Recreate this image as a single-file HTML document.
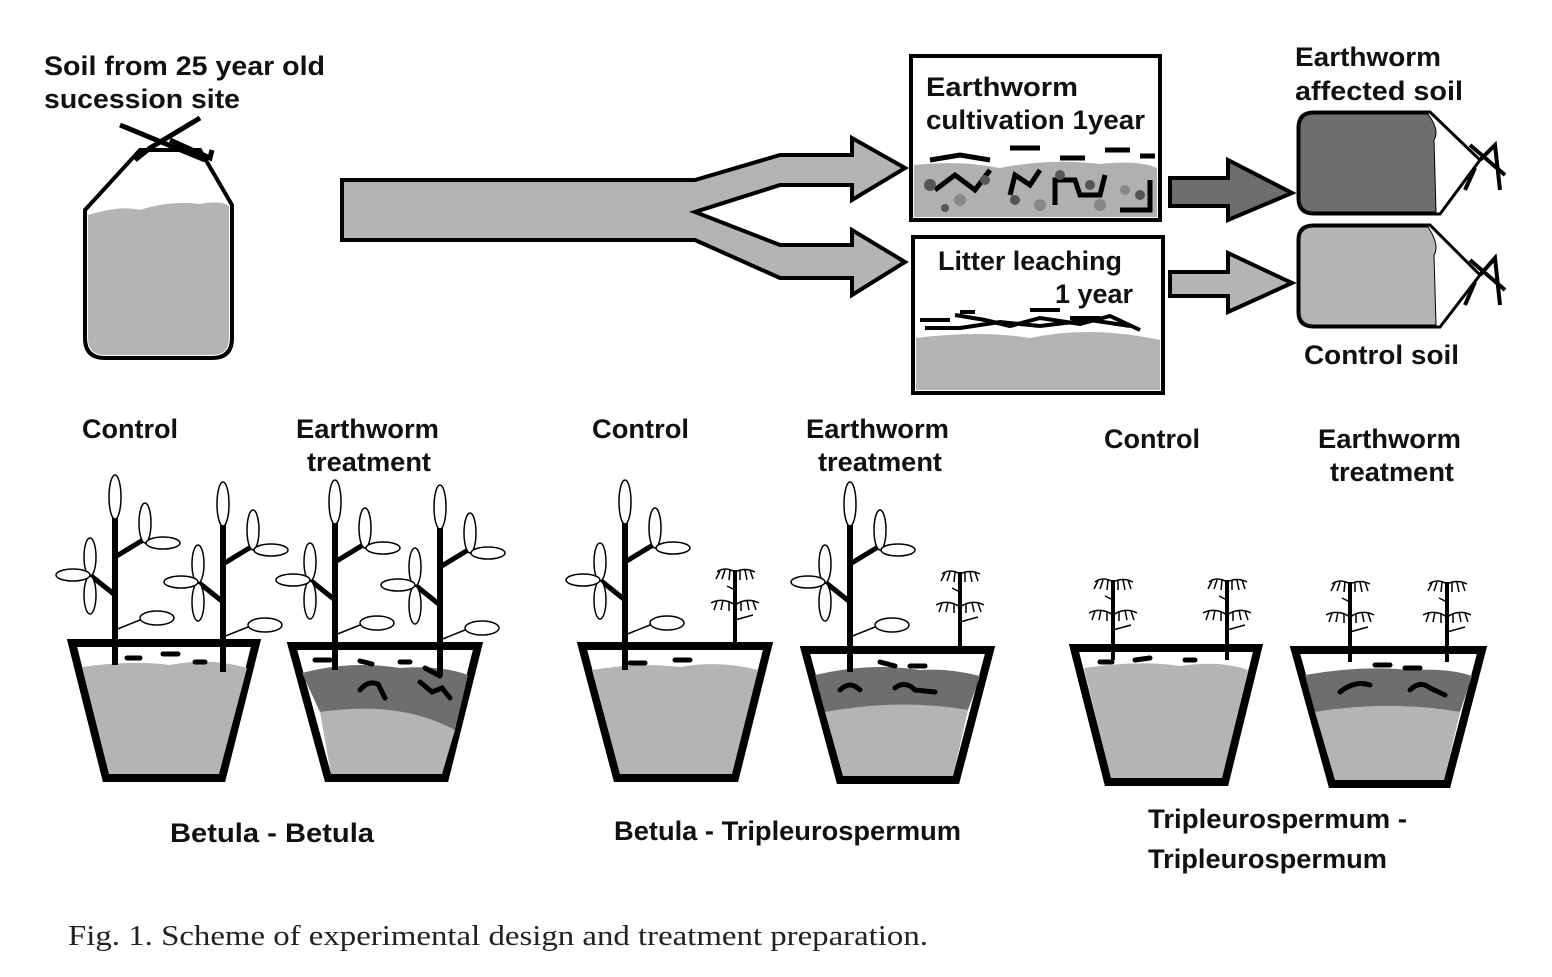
<!DOCTYPE html>
<html><head><meta charset="utf-8"><style>
html,body{margin:0;padding:0;background:#fff;}
svg{display:block;}
.t{font-family:"Liberation Sans",Arial,sans-serif;font-weight:bold;font-size:27px;fill:#111;}
.c{font-family:"Liberation Serif",serif;font-size:29px;fill:#222;}
</style></head><body>
<svg width="1552" height="977" viewBox="0 0 1552 977" xmlns="http://www.w3.org/2000/svg">
<defs>
<g id="bet" stroke="#000" fill="#fff">
 <line x1="0" y1="0" x2="0" y2="-150" stroke-width="6"/>
 <ellipse cx="0" cy="-168" rx="6" ry="22" stroke-width="1.5"/>
 <line x1="0" y1="-108" x2="28" y2="-125" stroke-width="5"/>
 <ellipse cx="30" cy="-142" rx="6" ry="20" stroke-width="1.5"/>
 <ellipse cx="48" cy="-122" rx="17" ry="6" stroke-width="1.5"/>
 <line x1="0" y1="-70" x2="-25" y2="-90" stroke-width="5"/>
 <ellipse cx="-25" cy="-108" rx="6" ry="19" stroke-width="1.5"/>
 <ellipse cx="-25" cy="-70" rx="6" ry="19" stroke-width="1.5"/>
 <ellipse cx="-42" cy="-90" rx="17" ry="6" stroke-width="1.5"/>
 <line x1="0" y1="-35" x2="25" y2="-45" stroke-width="1.5"/>
 <ellipse cx="42" cy="-47" rx="17" ry="7" stroke-width="1.5"/>
</g>
<g id="tri" stroke="#000" fill="none" stroke-width="1.5">
 <line x1="0" y1="0" x2="0" y2="-80" stroke-width="4"/>
 <path d="M0,-78 q10,-5 20,0 M5,-80 l0,10 M10,-80 l2,10 M15,-80 l3,9 M0,-78 q-10,-6 -18,0 M-5,-80 l-1,10 M-10,-80 l-3,9 M-15,-79 l-4,8"/>
 <path d="M0,-45 q12,-8 24,-2 M6,-49 l0,10 M12,-50 l2,10 M18,-49 l3,9 M0,-45 q-12,-8 -24,-2 M-6,-49 l0,10 M-12,-50 l-2,10 M-18,-49 l-3,9"/>
 <path d="M0,-60 l-8,-4 M0,-30 l18,-5"/>
</g>
</defs>

<!-- left bag -->
<path d="M85,210 L140,150 L200,150 L232,205 L232,338 Q232,358 212,358 L105,358 Q85,358 85,338 Z" fill="#fff" stroke="#000" stroke-width="4"/>
<path d="M88,215 Q120,205 140,210 Q170,200 200,204 Q220,200 229,206 L229,338 Q229,355 212,355 L105,355 Q88,355 88,338 Z" fill="#b4b4b4"/>
<path d="M120,125 L205,160 M200,118 L150,148 L135,160 M170,140 L210,158 L212,150" stroke="#000" stroke-width="5" fill="none"/>
<path d="M140,150 L200,150" stroke="#000" stroke-width="3"/>

<!-- big arrow -->
<path d="M342,180 L695,180 L780,155 L852,155 L852,138 L905,168 L852,200 L852,185 L780,185 L695,212 L780,245 L852,245 L852,230 L905,262 L852,295 L852,278 L780,278 L695,240 L342,240 Z" fill="#b4b4b4" stroke="#000" stroke-width="4" stroke-linejoin="miter"/>

<!-- upper box -->
<rect x="911" y="56" width="249" height="164" fill="#fff" stroke="#000" stroke-width="4"/>
<path d="M914,165 Q960,160 1000,168 Q1050,158 1100,164 Q1140,160 1157,168 L1157,217 L914,217 Z" fill="#b0b0b0"/>
<g stroke="#000" stroke-width="5" fill="none">
<path d="M930,160 L960,155 L990,160 M1010,148 L1040,148 M1060,158 L1085,158 M1105,150 L1130,150 M1140,156 L1155,156"/>
<path d="M935,190 L955,175 L975,190 L990,170 M1010,195 L1015,175 L1030,185 L1040,170 M1055,205 L1055,180 L1075,180 L1080,195 L1100,195 L1105,175 M1120,210 L1150,210 L1150,180"/>
</g>
<g fill="#555"><circle cx="930" cy="185" r="6"/><circle cx="985" cy="180" r="5"/><circle cx="1015" cy="200" r="5"/><circle cx="1090" cy="185" r="5"/><circle cx="945" cy="208" r="4"/><circle cx="1060" cy="175" r="5"/><circle cx="1140" cy="195" r="5"/></g>
<g fill="#888"><circle cx="960" cy="200" r="6"/><circle cx="1040" cy="205" r="6"/><circle cx="1100" cy="205" r="6"/><circle cx="1125" cy="190" r="5"/></g>

<!-- lower box -->
<rect x="913" y="237" width="250" height="156" fill="#fff" stroke="#000" stroke-width="4"/>
<path d="M916,338 Q980,330 1030,338 Q1090,325 1160,340 L1160,390 L916,390 Z" fill="#b4b4b4"/>
<g stroke="#000" stroke-width="4" fill="none">
<path d="M920,320 L950,320 M955,315 L985,320 L1010,326 L1040,318 L1080,324 L1110,316 L1140,330 M925,328 L960,328 L1000,322 L1040,326 L1090,320 L1130,326 M1030,310 L1060,310 M1070,318 L1100,318 M960,312 L975,312"/>
</g>

<!-- small arrows -->
<path d="M1170,178 L1228,178 L1228,160 L1292,193 L1228,220 L1228,206 L1170,206 Z" fill="#6e6e6e" stroke="#000" stroke-width="4"/>
<path d="M1170,272 L1228,272 L1228,253 L1292,283 L1228,312 L1228,296 L1170,296 Z" fill="#b4b4b4" stroke="#000" stroke-width="4"/>

<!-- right bottles -->
<g stroke="#000" stroke-width="3">
<path d="M1298,128 Q1298,112 1314,112 L1430,112 L1480,160 L1440,214 L1314,214 Q1298,214 1298,198 Z" fill="#fff"/>
<path d="M1300,128 Q1300,114 1314,114 L1428,114 Q1440,130 1434,140 L1436,212 L1314,212 Q1300,212 1300,198 Z" fill="#6e6e6e" stroke-width="1"/>
<path d="M1298,240 Q1298,225 1314,225 L1430,225 L1480,275 L1440,327 L1314,327 Q1298,327 1298,312 Z" fill="#fff"/>
<path d="M1300,240 Q1300,227 1314,227 L1428,227 Q1440,245 1434,255 L1436,325 L1314,325 Q1300,325 1300,312 Z" fill="#b4b4b4" stroke-width="1"/>
</g>
<g stroke="#000" stroke-width="4" fill="none">
<path d="M1470,145 L1505,175 M1480,160 L1495,145 L1500,190 M1475,168 L1465,190"/>
<path d="M1470,260 L1505,290 M1480,275 L1495,258 L1500,305 M1475,282 L1465,305"/>
</g>

<!-- pots -->
<g stroke="#000" stroke-width="8" stroke-linejoin="miter">
<path d="M72,643 L256,643 L222,778 L106,778 Z" fill="#fff"/>
<path d="M292,646 L478,646 L445,778 L328,778 Z" fill="#fff"/>
<path d="M582,646 L768,646 L735,778 L617,778 Z" fill="#fff"/>
<path d="M805,650 L990,650 L956,780 L840,780 Z" fill="#fff"/>
<path d="M1074,648 L1258,648 L1225,782 L1108,782 Z" fill="#fff"/>
<path d="M1295,650 L1482,650 L1447,784 L1332,784 Z" fill="#fff"/>
</g>
<path d="M82,667 Q130,660 170,665 Q210,657 247,668 L219,774 L109,774 Z" fill="#b4b4b4"/>
<path d="M302,673 Q350,660 400,668 Q440,665 468,675 L455,730 Q400,702 320,712 Z" fill="#6e6e6e"/>
<path d="M320,712 Q400,700 455,730 L442,774 L331,774 Z" fill="#b4b4b4"/>
<path d="M592,670 Q640,662 680,667 Q720,660 758,670 L732,774 L620,774 Z" fill="#b4b4b4"/>
<path d="M815,675 Q870,662 920,670 Q950,668 980,676 L968,710 Q900,700 825,712 Z" fill="#6e6e6e"/>
<path d="M825,712 Q900,698 968,710 L953,776 L843,776 Z" fill="#b4b4b4"/>
<path d="M1084,668 Q1140,660 1180,666 Q1220,660 1248,670 L1222,778 L1111,778 Z" fill="#b4b4b4"/>
<path d="M1305,675 Q1360,665 1410,670 Q1450,668 1472,676 L1460,712 Q1390,700 1315,712 Z" fill="#6e6e6e"/>
<path d="M1315,712 Q1390,700 1460,712 L1444,780 L1335,780 Z" fill="#b4b4b4"/>
<g stroke="#000" stroke-width="5" fill="none" stroke-linecap="round">
<path d="M127,658 L140,658 M163,654 L178,654 M195,662 L205,662"/>
<path d="M315,660 L330,660 M360,661 L372,664 M400,662 L410,662 M425,668 L440,676"/>
<path d="M360,690 Q368,680 378,684 L385,698 M420,682 L432,692 L442,688 L450,698"/>
<path d="M630,663 L645,663 M675,660 L690,660"/>
<path d="M840,690 Q850,680 860,690 M895,688 Q905,680 915,690 L935,692 M880,662 L895,666 M910,666 L925,666"/>
<path d="M1100,662 L1112,662 M1135,660 L1150,658 M1185,660 L1195,660"/>
<path d="M1340,692 Q1355,680 1370,685 M1410,690 Q1420,680 1430,688 L1445,695 M1375,665 L1390,665 M1405,668 L1420,668"/>
</g>
<use href="#bet" x="115" y="665"/><use href="#bet" x="223" y="672"/>
<use href="#bet" x="335" y="670"/><use href="#bet" x="440" y="675"/>
<use href="#bet" x="625" y="670"/><use href="#tri" x="735" y="650"/>
<use href="#bet" x="850" y="672"/><use href="#tri" x="960" y="652"/>
<use href="#tri" x="1113" y="660"/><use href="#tri" x="1227" y="660"/>
<use href="#tri" x="1350" y="662"/><use href="#tri" x="1447" y="662"/>

<!-- text -->
<g class="t" lengthAdjust="spacingAndGlyphs">
<text class="t" x="44" y="75" textLength="281" lengthAdjust="spacingAndGlyphs">Soil from 25 year old</text>
<text class="t" x="44" y="108" textLength="196" lengthAdjust="spacingAndGlyphs">sucession site</text>
<text class="t" x="926" y="96" textLength="152" lengthAdjust="spacingAndGlyphs">Earthworm</text>
<text class="t" x="926" y="129" textLength="219" lengthAdjust="spacingAndGlyphs">cultivation 1year</text>
<text class="t" x="938" y="270" textLength="184" lengthAdjust="spacingAndGlyphs">Litter leaching</text>
<text class="t" x="1055" y="303" textLength="78" lengthAdjust="spacingAndGlyphs">1 year</text>
<text class="t" x="1295" y="66" textLength="146" lengthAdjust="spacingAndGlyphs">Earthworm</text>
<text class="t" x="1295" y="100" textLength="168" lengthAdjust="spacingAndGlyphs">affected soil</text>
<text class="t" x="1304" y="364" textLength="155" lengthAdjust="spacingAndGlyphs">Control soil</text>
<text class="t" x="82" y="438" textLength="96" lengthAdjust="spacingAndGlyphs">Control</text>
<text class="t" x="296" y="438" textLength="143" lengthAdjust="spacingAndGlyphs">Earthworm</text>
<text class="t" x="307" y="471" textLength="124" lengthAdjust="spacingAndGlyphs">treatment</text>
<text class="t" x="592" y="438" textLength="97" lengthAdjust="spacingAndGlyphs">Control</text>
<text class="t" x="806" y="438" textLength="143" lengthAdjust="spacingAndGlyphs">Earthworm</text>
<text class="t" x="818" y="471" textLength="124" lengthAdjust="spacingAndGlyphs">treatment</text>
<text class="t" x="1104" y="448" textLength="96" lengthAdjust="spacingAndGlyphs">Control</text>
<text class="t" x="1318" y="448" textLength="143" lengthAdjust="spacingAndGlyphs">Earthworm</text>
<text class="t" x="1330" y="481" textLength="124" lengthAdjust="spacingAndGlyphs">treatment</text>
<text class="t" x="170" y="842" textLength="204" lengthAdjust="spacingAndGlyphs">Betula - Betula</text>
<text class="t" x="614" y="840" textLength="347" lengthAdjust="spacingAndGlyphs">Betula - Tripleurospermum</text>
<text class="t" x="1148" y="828" textLength="259" lengthAdjust="spacingAndGlyphs">Tripleurospermum -</text>
<text class="t" x="1148" y="868" textLength="239" lengthAdjust="spacingAndGlyphs">Tripleurospermum</text>
</g>
<text class="c" x="68" y="945" textLength="860" lengthAdjust="spacingAndGlyphs">Fig. 1. Scheme of experimental design and treatment preparation.</text>
</svg>
</body></html>
